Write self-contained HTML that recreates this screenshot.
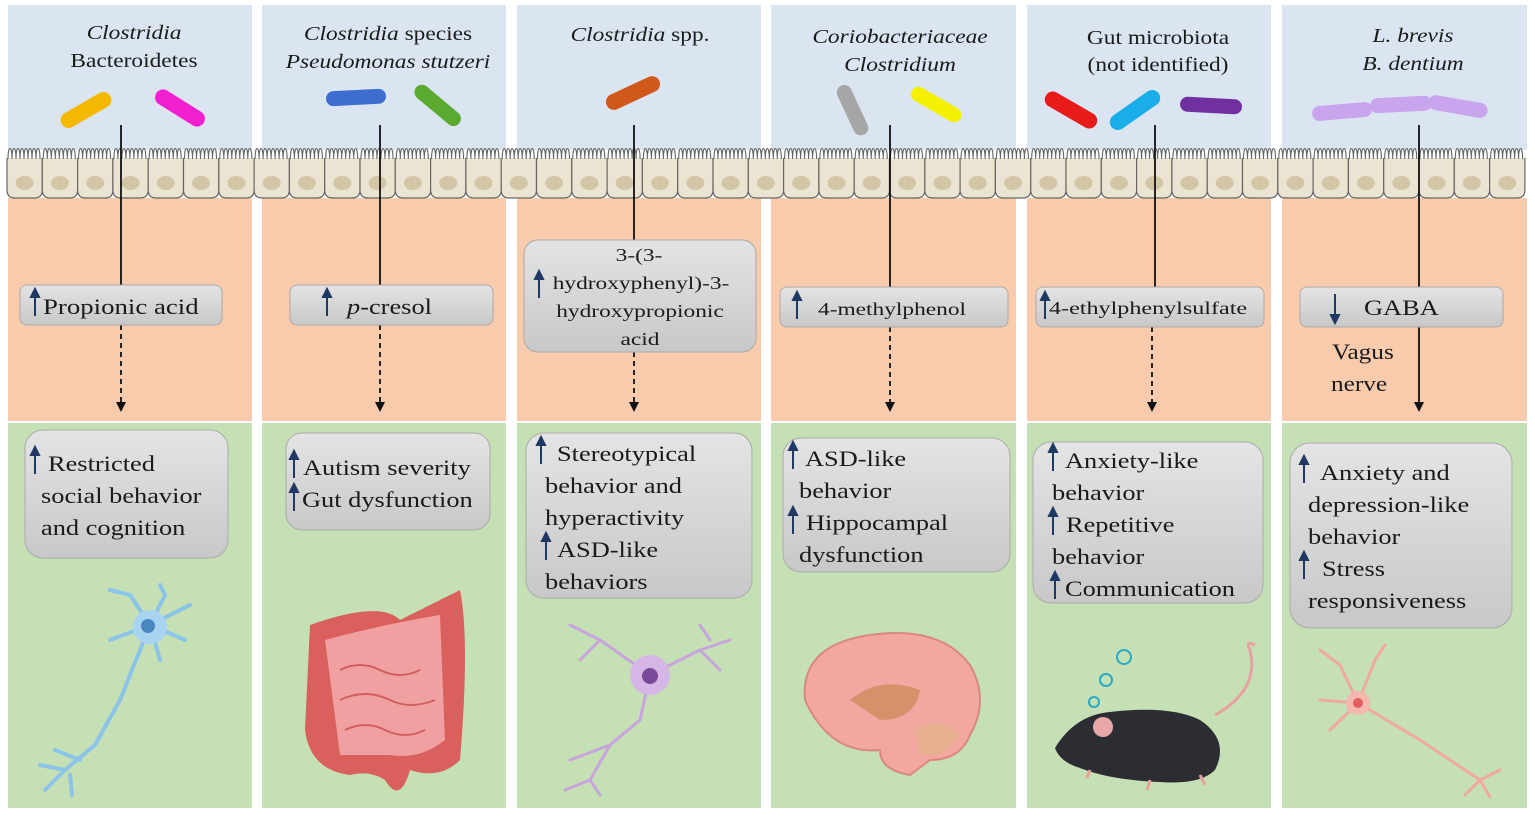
<!DOCTYPE html>
<html><head><meta charset="utf-8"><style>
html,body{margin:0;padding:0;background:#fff;width:1535px;height:817px;overflow:hidden}
svg text{font-family:"Liberation Serif",serif;fill:#1a1a1a}
</style></head><body>
<svg width="1535" height="817" viewBox="0 0 1535 817" xmlns="http://www.w3.org/2000/svg">
<defs>
<linearGradient id="gb" x1="0" y1="0" x2="0" y2="1"><stop offset="0" stop-color="#e4e4e4"/><stop offset="1" stop-color="#c8c8c8"/></linearGradient>
<marker id="ah" markerWidth="10" markerHeight="10" refX="5" refY="8" orient="0" markerUnits="userSpaceOnUse"><path d="M0,0 L10,0 L5,10 Z" fill="#111"/></marker>
<g id="cell"><path d="M0,158 L0,190 Q0,198 8,198 L27.3,198 Q35.3,198 35.3,190 L35.3,158" fill="#ece4d2" stroke="#666" stroke-width="1.2"/><ellipse cx="17.6" cy="183" rx="9" ry="7" fill="#d3c6a6"/><path d="M1,159 c0,-14 4,-14 4,0 c0,-14 4,-14 4,0 c0,-14 4,-14 4,0 c0,-14 4,-14 4,0 c0,-14 4,-14 4,0 c0,-14 4,-14 4,0 c0,-14 4,-14 4,0 c0,-14 4,-14 4,0" fill="none" stroke="#666" stroke-width="1.1"/></g>
</defs>
<g>
<rect x="8" y="5" width="244" height="145" fill="#dbe5f1"/><rect x="8" y="198" width="244" height="223" fill="#f8cbad"/><rect x="8" y="423" width="244" height="385" fill="#c5e0b4"/>
<rect x="262" y="5" width="244" height="145" fill="#dbe5f1"/><rect x="262" y="198" width="244" height="223" fill="#f8cbad"/><rect x="262" y="423" width="244" height="385" fill="#c5e0b4"/>
<rect x="517" y="5" width="244" height="145" fill="#dbe5f1"/><rect x="517" y="198" width="244" height="223" fill="#f8cbad"/><rect x="517" y="423" width="244" height="385" fill="#c5e0b4"/>
<rect x="771" y="5" width="245" height="145" fill="#dbe5f1"/><rect x="771" y="198" width="245" height="223" fill="#f8cbad"/><rect x="771" y="423" width="245" height="385" fill="#c5e0b4"/>
<rect x="1027" y="5" width="244" height="145" fill="#dbe5f1"/><rect x="1027" y="198" width="244" height="223" fill="#f8cbad"/><rect x="1027" y="423" width="244" height="385" fill="#c5e0b4"/>
<rect x="1282" y="5" width="245" height="145" fill="#dbe5f1"/><rect x="1282" y="198" width="245" height="223" fill="#f8cbad"/><rect x="1282" y="423" width="245" height="385" fill="#c5e0b4"/>
</g>
<g>
<use href="#cell" x="7"/><use href="#cell" x="42.3"/><use href="#cell" x="77.6"/><use href="#cell" x="112.9"/><use href="#cell" x="148.2"/><use href="#cell" x="183.5"/><use href="#cell" x="218.8"/><use href="#cell" x="254.1"/><use href="#cell" x="289.4"/><use href="#cell" x="324.7"/><use href="#cell" x="360"/><use href="#cell" x="395.3"/><use href="#cell" x="430.6"/><use href="#cell" x="465.9"/><use href="#cell" x="501.2"/><use href="#cell" x="536.5"/><use href="#cell" x="571.8"/><use href="#cell" x="607.1"/><use href="#cell" x="642.4"/><use href="#cell" x="677.7"/><use href="#cell" x="713"/><use href="#cell" x="748.3"/><use href="#cell" x="783.6"/><use href="#cell" x="818.9"/><use href="#cell" x="854.2"/><use href="#cell" x="889.5"/><use href="#cell" x="924.8"/><use href="#cell" x="960.1"/><use href="#cell" x="995.4"/><use href="#cell" x="1030.7"/><use href="#cell" x="1066"/><use href="#cell" x="1101.3"/><use href="#cell" x="1136.6"/><use href="#cell" x="1171.9"/><use href="#cell" x="1207.2"/><use href="#cell" x="1242.5"/><use href="#cell" x="1277.8"/><use href="#cell" x="1313.1"/><use href="#cell" x="1348.4"/><use href="#cell" x="1383.7"/><use href="#cell" x="1419"/><use href="#cell" x="1454.3"/><use href="#cell" x="1489.6"/>
</g>
<!-- titles -->
<g font-size="20" text-anchor="middle">
<text transform="translate(134 39) scale(1.17 1)" font-style="italic">Clostridia</text><text transform="translate(134 67) scale(1.17 1)">Bacteroidetes</text>
<text transform="translate(388 40) scale(1.17 1)"><tspan font-style="italic">Clostridia</tspan> species</text><text transform="translate(388 68) scale(1.17 1)" font-style="italic">Pseudomonas stutzeri</text>
<text transform="translate(640 41) scale(1.17 1)"><tspan font-style="italic">Clostridia</tspan> spp.</text>
<text transform="translate(900 43) scale(1.17 1)" font-style="italic">Coriobacteriaceae</text><text transform="translate(900 71) scale(1.17 1)" font-style="italic">Clostridium</text>
<text transform="translate(1158 44) scale(1.17 1)">Gut microbiota</text><text transform="translate(1158 71) scale(1.17 1)">(not identified)</text>
<text transform="translate(1413 42) scale(1.17 1)" font-style="italic">L. brevis</text><text transform="translate(1413 70) scale(1.17 1)" font-style="italic">B. dentium</text>
</g>
<g>
<rect x="58" y="102" width="56" height="16" rx="8" fill="#f5b800" transform="rotate(-30 86 110)"/>
<rect x="152" y="100" width="56" height="16" rx="8" fill="#f020d0" transform="rotate(32 180 108)"/>
<rect x="326" y="90" width="60" height="15" rx="7.5" fill="#3d6ecf" transform="rotate(-3 356 97)"/>
<rect x="410" y="98" width="56" height="15" rx="7.5" fill="#5aaa30" transform="rotate(40 438 105)"/>
<rect x="604" y="85" width="58" height="16" rx="8" fill="#d0581a" transform="rotate(-25 633 93)"/>
<rect x="826" y="103" width="54" height="15" rx="7.5" fill="#a6a6a6" transform="rotate(65 853 110)"/>
<rect x="908" y="97" width="56" height="15" rx="7.5" fill="#f5f000" transform="rotate(30 936 105)"/>
<rect x="1042" y="102" width="58" height="16" rx="8" fill="#e81b1b" transform="rotate(30 1071 110)"/>
<rect x="1106" y="102" width="58" height="16" rx="8" fill="#1aaee8" transform="rotate(-35 1135 110)"/>
<rect x="1180" y="98" width="62" height="15" rx="7.5" fill="#7030a0" transform="rotate(3 1211 106)"/>
<rect x="1312" y="104" width="60" height="15" rx="7.5" fill="#c9a5ee" transform="rotate(-5 1342 111)"/>
<rect x="1370" y="97" width="62" height="15" rx="7.5" fill="#c9a5ee" transform="rotate(-3 1400 104)"/>
<rect x="1428" y="99" width="60" height="15" rx="7.5" fill="#c9a5ee" transform="rotate(10 1458 106)"/>
</g>
<g stroke="#111" stroke-width="1.8" fill="none">
<line x1="121" y1="125" x2="121" y2="287"/><line x1="121" y1="325" x2="121" y2="410" stroke-dasharray="5,4" marker-end="url(#ah)"/>
<line x1="380" y1="125" x2="380" y2="287"/><line x1="380" y1="325" x2="380" y2="410" stroke-dasharray="5,4" marker-end="url(#ah)"/>
<line x1="634" y1="125" x2="634" y2="240"/><line x1="634" y1="352" x2="634" y2="410" stroke-dasharray="5,4" marker-end="url(#ah)"/>
<line x1="890" y1="125" x2="890" y2="287"/><line x1="890" y1="327" x2="890" y2="410" stroke-dasharray="5,4" marker-end="url(#ah)"/>
<line x1="1155" y1="125" x2="1155" y2="287"/><line x1="1152" y1="327" x2="1152" y2="410" stroke-dasharray="5,4" marker-end="url(#ah)"/>
<line x1="1419" y1="125" x2="1419" y2="287"/><line x1="1419" y1="327" x2="1419" y2="410" marker-end="url(#ah)"/>
</g>
<g stroke="#aaa" stroke-width="1" fill="url(#gb)">
<rect x="20" y="285" width="202" height="40" rx="7"/>
<rect x="290" y="285" width="203" height="40" rx="7"/>
<rect x="524" y="240" width="232" height="112" rx="14"/>
<rect x="780" y="287" width="228" height="40" rx="7"/>
<rect x="1036" y="287" width="228" height="40" rx="7"/>
<rect x="1300" y="287" width="203" height="40" rx="7"/>
</g>
<g stroke="#aaa" stroke-width="1" fill="url(#gb)">
<rect x="25" y="430" width="203" height="128" rx="18"/>
<rect x="286" y="433" width="204" height="97" rx="16"/>
<rect x="526" y="433" width="226" height="165" rx="18"/>
<rect x="783" y="438" width="227" height="134" rx="18"/>
<rect x="1033" y="442" width="230" height="161" rx="18"/>
<rect x="1290" y="443" width="222" height="185" rx="20"/>
</g>
<g stroke="#1f3864" stroke-width="2" fill="#1f3864">
<line x1="35" y1="316" x2="35" y2="295"/><path d="M31,297 L35,289 L39,297Z"/>
<line x1="327" y1="316" x2="327" y2="295"/><path d="M323,297 L327,289 L331,297Z"/>
<line x1="539" y1="298" x2="539" y2="277"/><path d="M535,279 L539,271 L543,279Z"/>
<line x1="797" y1="319" x2="797" y2="298"/><path d="M793,300 L797,292 L801,300Z"/>
<line x1="1045" y1="319" x2="1045" y2="298"/><path d="M1041,300 L1045,292 L1049,300Z"/>
<line x1="1335" y1="294" x2="1335" y2="317"/><path d="M1331,315 L1335,323 L1339,315Z"/>
<line x1="35" y1="474" x2="35" y2="453"/><path d="M31,455 L35,447 L39,455Z"/>
<line x1="294" y1="478" x2="294" y2="457"/><path d="M290,459 L294,451 L298,459Z"/>
<line x1="294" y1="511" x2="294" y2="490"/><path d="M290,492 L294,484 L298,492Z"/>
<line x1="541" y1="464" x2="541" y2="443"/><path d="M537,445 L541,437 L545,445Z"/>
<line x1="546" y1="560" x2="546" y2="539"/><path d="M542,541 L546,533 L550,541Z"/>
<line x1="793" y1="469" x2="793" y2="448"/><path d="M789,450 L793,442 L797,450Z"/>
<line x1="793" y1="534" x2="793" y2="513"/><path d="M789,515 L793,507 L797,515Z"/>
<line x1="1053" y1="471" x2="1053" y2="450"/><path d="M1049,452 L1053,444 L1057,452Z"/>
<line x1="1053" y1="535" x2="1053" y2="514"/><path d="M1049,516 L1053,508 L1057,516Z"/>
<line x1="1055" y1="599" x2="1055" y2="578"/><path d="M1051,580 L1055,572 L1059,580Z"/>
<line x1="1304" y1="483" x2="1304" y2="462"/><path d="M1300,464 L1304,456 L1308,464Z"/>
<line x1="1304" y1="579" x2="1304" y2="558"/><path d="M1300,560 L1304,552 L1308,560Z"/>
</g>
<g font-size="22">
<text transform="translate(43 314) scale(1.22 1)">Propionic acid</text>
<text transform="translate(347 314) scale(1.2 1)"><tspan font-style="italic">p</tspan>-cresol</text>
<text transform="translate(1364 315) scale(1.2 1)">GABA</text>
<text transform="translate(1332 359) scale(1.15 1)">Vagus</text>
<text transform="translate(1331 391) scale(1.15 1)">nerve</text>
</g>
<g font-size="18">
<text transform="translate(639 261) scale(1.3 1)" text-anchor="middle">3-(3-</text>
<text transform="translate(641 289) scale(1.3 1)" text-anchor="middle">hydroxyphenyl)-3-</text>
<text transform="translate(640 317) scale(1.3 1)" text-anchor="middle">hydroxypropionic</text>
<text transform="translate(640 345) scale(1.3 1)" text-anchor="middle">acid</text>
<text transform="translate(818 315) scale(1.3 1)">4-methylphenol</text>
<text transform="translate(1049 314) scale(1.34 1)">4-ethylphenylsulfate</text>
</g>
<g font-size="22">
<text transform="translate(48 471) scale(1.2 1)">Restricted</text><text transform="translate(41 503) scale(1.2 1)">social behavior</text><text transform="translate(41 535) scale(1.2 1)">and cognition</text>
<text transform="translate(303 475) scale(1.2 1)">Autism severity</text><text transform="translate(302 507) scale(1.2 1)">Gut dysfunction</text>
<text transform="translate(557 461) scale(1.2 1)">Stereotypical</text><text transform="translate(545 493) scale(1.2 1)">behavior and</text><text transform="translate(545 525) scale(1.2 1)">hyperactivity</text><text transform="translate(557 557) scale(1.2 1)">ASD-like</text><text transform="translate(545 589) scale(1.2 1)">behaviors</text>
<text transform="translate(805 466) scale(1.2 1)">ASD-like</text><text transform="translate(799 498) scale(1.2 1)">behavior</text><text transform="translate(806 530) scale(1.2 1)">Hippocampal</text><text transform="translate(799 562) scale(1.2 1)">dysfunction</text>
<text transform="translate(1065 468) scale(1.2 1)">Anxiety-like</text><text transform="translate(1052 500) scale(1.2 1)">behavior</text><text transform="translate(1066 532) scale(1.2 1)">Repetitive</text><text transform="translate(1052 564) scale(1.2 1)">behavior</text><text transform="translate(1065 596) scale(1.2 1)">Communication</text>
<text transform="translate(1320 480) scale(1.2 1)">Anxiety and</text><text transform="translate(1308 512) scale(1.2 1)">depression-like</text><text transform="translate(1308 544) scale(1.2 1)">behavior</text><text transform="translate(1322 576) scale(1.2 1)">Stress</text><text transform="translate(1308 608) scale(1.2 1)">responsiveness</text>
</g>
<g stroke="#8cc3e8" stroke-width="4" fill="none" stroke-linecap="round">
<path d="M150,625 L120,700 L95,745 L65,770"/><path d="M65,770 L40,765 M65,770 L45,790 M70,775 L72,795 M80,760 L55,750"/>
<path d="M150,625 L130,595 M150,625 L165,595 M150,625 L190,605 M150,625 L185,640 M150,625 L160,660 M150,625 L110,640 M130,595 L110,590 M165,595 L160,585"/>
</g>
<circle cx="150" cy="627" r="17" fill="#a8d4f2"/><circle cx="148" cy="626" r="7" fill="#4a86c0"/>
<path d="M310,625 Q380,600 400,620 Q430,605 460,590 Q470,640 460,760 Q440,780 410,770 Q400,805 385,780 Q370,770 350,775 Q310,770 305,730 Z" fill="#d9605c"/>
<path d="M325,640 Q380,625 440,615 L445,740 Q420,760 390,755 L340,755 Z" fill="#f0a0a0"/>
<path d="M340,670 q20,-10 40,0 q20,10 40,0 M340,700 q25,-12 50,0 q20,10 45,0 M345,730 q20,-10 40,0 q20,10 40,0" stroke="#d06060" stroke-width="2" fill="none"/>
<g stroke="#c8a4dc" stroke-width="3" fill="none" stroke-linecap="round">
<path d="M650,675 L600,640 L570,625 M600,640 L580,660 M650,675 L700,650 L730,640 M700,650 L720,670 M710,640 L700,625 M650,675 L640,720 L610,745 L590,780 M610,745 L570,760 M590,780 L600,795 M590,780 L565,790"/>
</g>
<circle cx="650" cy="675" r="20" fill="#d6b6e6"/><circle cx="650" cy="676" r="8" fill="#7a4a9a"/>
<path d="M805,700 Q800,645 870,635 Q940,625 970,665 Q990,700 970,735 Q960,760 930,760 L910,775 Q880,770 880,750 Q830,755 805,700 Z" fill="#f2a8a0" stroke="#d98880" stroke-width="2"/>
<path d="M850,700 Q880,675 920,690 Q915,720 880,720 Z" fill="#d8906a"/>
<path d="M915,730 Q945,715 960,735 Q945,760 920,755 Z" fill="#e6b090"/>
<g>
<circle cx="1124" cy="657" r="7" fill="none" stroke="#2aa8c8" stroke-width="2"/>
<circle cx="1106" cy="680" r="6" fill="none" stroke="#2aa8c8" stroke-width="2"/>
<circle cx="1094" cy="702" r="5" fill="none" stroke="#2aa8c8" stroke-width="2"/>
<path d="M1215,715 Q1260,690 1250,650 Q1245,640 1255,645" stroke="#e8a0a0" stroke-width="3" fill="none"/>
<path d="M1055,748 Q1075,715 1110,712 Q1170,705 1200,720 Q1230,740 1215,770 Q1200,785 1160,782 Q1110,780 1080,768 Q1060,762 1055,748 Z" fill="#2b2d33"/>
<circle cx="1103" cy="727" r="10" fill="#e8a8a8"/>
<path d="M1150,780 l-3,10 M1200,775 l5,10 M1090,770 l-3,8" stroke="#e8a0a0" stroke-width="3"/>
</g>
<g stroke="#f0a8a0" stroke-width="3" fill="none" stroke-linecap="round">
<path d="M1358,703 L1340,665 M1358,703 L1375,660 M1358,703 L1320,700 M1358,703 L1330,730 M1340,665 L1320,650 M1375,660 L1385,645"/>
<path d="M1358,703 L1420,740 L1480,780 M1480,780 L1500,770 M1480,780 L1490,797 M1480,780 L1465,795"/>
</g>
<circle cx="1358" cy="703" r="12" fill="#f4b8b0"/><circle cx="1358" cy="703" r="5" fill="#e06060"/>
</svg>
</body></html>
